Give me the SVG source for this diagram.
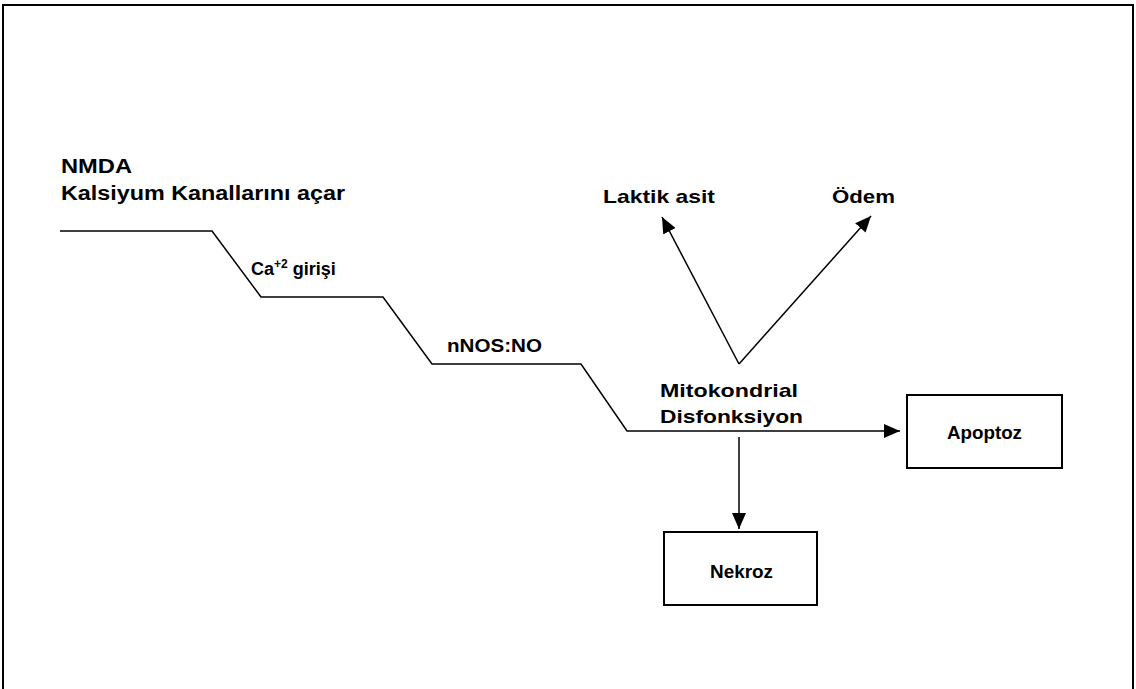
<svg xmlns="http://www.w3.org/2000/svg" width="1136" height="689" viewBox="0 0 1136 689">
  <style>
    .lbl { font-family: "Liberation Sans", Arial, sans-serif; font-weight: bold; fill: #000; }
    .box { fill: #fff; stroke: #000; stroke-width: 2; }
    .wire { fill: none; stroke: #000; stroke-width: 1.5; }
  </style>
  <defs>
    <marker id="arrow" markerUnits="userSpaceOnUse" markerWidth="17" markerHeight="14" refX="16" refY="7" orient="auto">
      <path d="M0,0 L16,7 L0,14 z" fill="#000"/>
    </marker>
  </defs>

  <rect width="1136" height="689" fill="#fff"/>
  <!-- outer frame -->
  <rect x="3" y="5" width="1130" height="720" fill="none" stroke="#000" stroke-width="2"/>

  <!-- connectors -->
  <g id="connectors">
    <polyline class="wire" points="60,231 212,231 261,297 383,297 432,364 581,364 627,431 900,431" marker-end="url(#arrow)"/>
    <line class="wire" x1="739" y1="437" x2="739" y2="529" marker-end="url(#arrow)"/>
    <line class="wire" x1="739" y1="364" x2="662" y2="217" marker-end="url(#arrow)"/>
    <line class="wire" x1="739" y1="364" x2="871" y2="216" marker-end="url(#arrow)"/>
  </g>

  <!-- step labels -->
  <g id="nmda">
    <text class="lbl" x="61" y="173" font-size="20" textLength="71" lengthAdjust="spacingAndGlyphs">NMDA</text>
    <text class="lbl" x="61" y="200" font-size="20" textLength="284" lengthAdjust="spacingAndGlyphs">Kalsiyum Kanallarını açar</text>
  </g>
  <g id="ca">
    <text class="lbl" x="251" y="275" font-size="18">Ca<tspan font-size="12" dy="-7">+2</tspan><tspan dy="7"> girişi</tspan></text>
  </g>
  <g id="nnos">
    <text class="lbl" x="447" y="352" font-size="18" textLength="95" lengthAdjust="spacingAndGlyphs">nNOS:NO</text>
  </g>
  <g id="mito">
    <text class="lbl" x="660" y="397" font-size="19" textLength="138" lengthAdjust="spacingAndGlyphs">Mitokondrial</text>
    <text class="lbl" x="660" y="423" font-size="19" textLength="143" lengthAdjust="spacingAndGlyphs">Disfonksiyon</text>
  </g>
  <g id="laktik">
    <text class="lbl" x="603" y="203" font-size="19" textLength="112" lengthAdjust="spacingAndGlyphs">Laktik asit</text>
  </g>
  <g id="odem">
    <text class="lbl" x="832" y="203" font-size="19" textLength="63" lengthAdjust="spacingAndGlyphs">Ödem</text>
  </g>

  <!-- outcome boxes -->
  <g id="nekroz">
    <rect class="box" x="664" y="532" width="153" height="73"/>
    <text class="lbl" x="710" y="578" font-size="18" textLength="63" lengthAdjust="spacingAndGlyphs">Nekroz</text>
  </g>
  <g id="apoptoz">
    <rect class="box" x="907" y="395" width="155" height="73"/>
    <text class="lbl" x="947" y="439" font-size="18" textLength="75" lengthAdjust="spacingAndGlyphs">Apoptoz</text>
  </g>
</svg>
